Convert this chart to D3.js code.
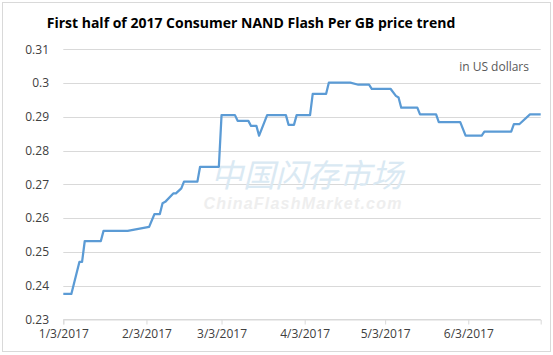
<!DOCTYPE html>
<html><head><meta charset="utf-8">
<script src="https://cdn.jsdelivr.net/npm/d3@7"></script>
<style>html,body{margin:0;padding:0;background:#fff;}svg{display:block;}</style>
</head><body>
<svg id="c" width="553" height="355"></svg>
<script>
const title = "First half of 2017 Consumer NAND Flash Per GB price trend";
const unitLabel = "in US dollars";
const dates = ["2017-01-03","2017-01-06","2017-01-09","2017-01-10","2017-01-11","2017-01-17","2017-01-18","2017-01-27",
"2017-02-04","2017-02-06","2017-02-08","2017-02-09","2017-02-10","2017-02-13","2017-02-14","2017-02-16","2017-02-17","2017-02-22","2017-02-23",
"2017-03-02","2017-03-03","2017-03-08","2017-03-09","2017-03-13","2017-03-14","2017-03-16","2017-03-17","2017-03-20","2017-03-27","2017-03-28","2017-03-30","2017-03-31",
"2017-04-05","2017-04-06","2017-04-11","2017-04-12","2017-04-20","2017-04-23","2017-04-27","2017-04-28",
"2017-05-05","2017-05-07","2017-05-08","2017-05-09","2017-05-15","2017-05-16","2017-05-22","2017-05-23","2017-05-31",
"2017-06-02","2017-06-08","2017-06-09","2017-06-19","2017-06-20","2017-06-22","2017-06-26","2017-06-30"];
const prices = [0.2375,0.2375,0.2470,0.2470,0.2532,0.2532,0.2562,0.2562,
0.2574,0.2612,0.2612,0.2644,0.2648,0.2673,0.2673,0.2688,0.2708,0.2708,0.2752,
0.2752,0.2905,0.2905,0.2888,0.2888,0.2873,0.2873,0.2844,0.2905,0.2905,0.2876,0.2876,0.2905,
0.2905,0.2968,0.2968,0.3001,0.3001,0.2995,0.2995,0.2983,
0.2983,0.2962,0.2957,0.2927,0.2927,0.2907,0.2907,0.2884,0.2884,
0.2844,0.2844,0.2856,0.2856,0.2878,0.2878,0.2907,0.2907];
const yTicks = [0.23,0.24,0.25,0.26,0.27,0.28,0.29,0.30,0.31];
const yTickLabels = ["0.23","0.24","0.25","0.26","0.27","0.28","0.29","0.3","0.31"];
const xTicks = ["2017-01-03","2017-02-03","2017-03-03","2017-04-03","2017-05-03","2017-06-03"];
const xTickLabels = ["1/3/2017","2/3/2017","3/3/2017","4/3/2017","5/3/2017","6/3/2017"];

const parse = d3.utcParse("%Y-%m-%d");
const data = dates.map((d,i)=>({date:parse(d), v:prices[i]}));
const svg = d3.select("#c");
const font = "'Open Sans', 'Noto Sans', sans-serif";

svg.append("rect").attr("x",2.5).attr("y",2.5).attr("width",548).attr("height",349)
  .attr("fill","#fff").attr("stroke","#d9d9d9").attr("stroke-width",1);

const L=63.3, R=540.7, T=49.3, B=319.3;
const x = d3.scaleUtc().domain([parse("2017-01-03"), parse("2017-06-30")]).range([L,R]);
const y = d3.scaleLinear().domain([0.23,0.31]).range([B,T]);

// gridlines
svg.append("g").selectAll("line").data(yTicks).join("line")
  .attr("x1",L).attr("x2",R).attr("y1",d=>Math.round(y(d))+0.5).attr("y2",d=>Math.round(y(d))+0.5)
  .attr("stroke","#d9d9d9").attr("stroke-width",1);

// y labels
svg.append("g").selectAll("text").data(yTicks).join("text")
  .attr("x",49).attr("y",d=>y(d)).attr("dy","0.35em").attr("text-anchor","end")
  .attr("font-family",font).attr("font-size",12).attr("fill","#404040")
  .text((d,i)=>yTickLabels[i]);

// x axis
const xa = d3.axisBottom(x).tickValues(xTicks.map(parse)).tickSize(5)
  .tickFormat((d,i)=>xTickLabels[i]);
const gx = svg.append("g").attr("transform",`translate(0,${Math.round(B)+0.5})`).call(xa);
gx.select(".domain").attr("stroke","#d9d9d9");
gx.selectAll(".tick line").attr("stroke","#d9d9d9");
gx.selectAll(".tick text").attr("font-family",font).attr("font-size",12).attr("fill","#404040").attr("dy","0.9em");

// watermark
svg.append("text").attr("x",307).attr("y",187).attr("text-anchor","middle")
  .attr("font-family","'Noto Sans CJK SC', sans-serif").attr("font-size",32).attr("font-style","italic")
  .attr("fill","#dae9f3").text("中国闪存市场");
svg.append("text").attr("x",303).attr("y",209).attr("text-anchor","middle")
  .attr("font-family","'Liberation Sans', Arial, sans-serif").attr("font-size",16).attr("font-weight","bold").attr("font-style","italic")
  .attr("letter-spacing",1.2).attr("fill","#eeeeee").text("ChinaFlashMarket.com");

// line
svg.append("path").datum(data)
  .attr("d", d3.line().x(d=>x(d.date)).y(d=>y(d.v)))
  .attr("fill","none").attr("stroke","#5b9bd5").attr("stroke-width",2.25).attr("stroke-linejoin","round");

// title
svg.append("text").attr("x",251).attr("y",28).attr("text-anchor","middle")
  .attr("font-family",font).attr("font-size",14).attr("font-weight","bold").attr("fill","#000")
  .text(title);

svg.append("text").attr("x",529).attr("y",71).attr("text-anchor","end")
  .attr("font-family",font).attr("font-size",12).attr("fill","#595959").text(unitLabel);
</script>
</body></html>
